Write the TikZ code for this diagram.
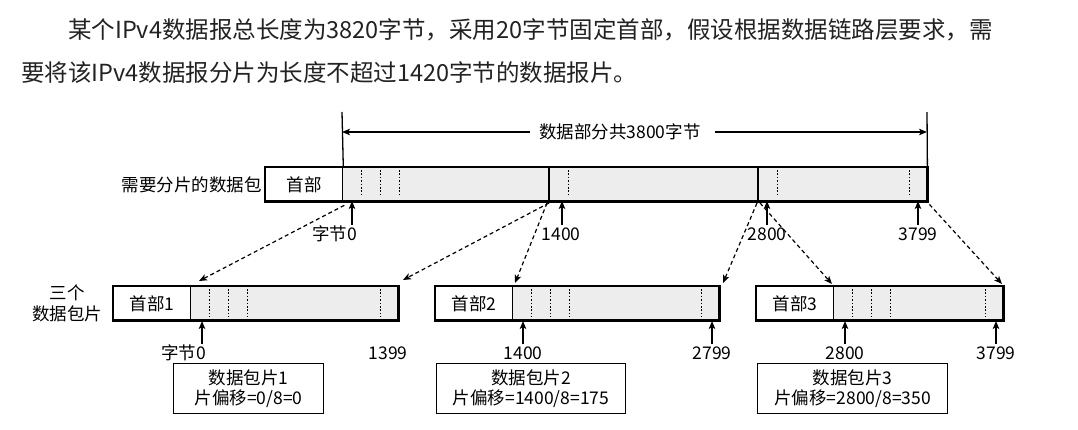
\documentclass[tikz,border=0pt]{standalone}
\usepackage{fontspec}
\setmainfont{Noto Sans CJK SC}
\usetikzlibrary{arrows.meta,calc}
\definecolor{datagray}{HTML}{EDEDED}
\definecolor{txt}{HTML}{222222}
\begin{document}
\begin{tikzpicture}[x=1pt,y=-1pt,
  lbl/.style={font=\fontsize{17.5}{20}\selectfont, inner sep=0pt, text=black},
  para/.style={font=\fontsize{23.5}{28}\selectfont, inner sep=0pt, anchor=west, text=txt},
  hdr/.style={draw=black, line width=1.3pt, fill=white, minimum height=34pt, inner sep=0pt, anchor=north west, font=\fontsize{17.5}{20}\selectfont},
  dat/.style={draw=none, fill=datagray, minimum height=34pt, inner sep=0pt, anchor=north west},
  frame/.style={draw=black, line width=2.4pt},
  dots/.style={line width=0.9pt, dash pattern=on 1.6pt off 1.8pt},
  tip/.style={-{Stealth[length=8pt,width=6.5pt,inset=2pt]}},
  upar/.style={line width=1.3pt, tip},
  dashar/.style={line width=1.2pt, dash pattern=on 4pt off 3pt, tip},
  dim/.style={line width=1.3pt},
  infobox/.style={draw=black, line width=1.3pt, minimum width=150pt, minimum height=50pt, inner sep=0pt, anchor=north west, align=center, font=\fontsize{17.5}{20.5}\selectfont}
]
\useasboundingbox (0,0) rectangle (1078,429);

% paragraph
\node[para] (p1) at (68,30) {某个IPv4数据报总长度为3820字节，采用20字节固定首部，假设根据数据链路层要求，需};
\node[para] (p2) at (21,73) {要将该IPv4数据报分片为长度不超过1420字节的数据报片。};

% ---------- original packet ----------
\node[dat, minimum width=585pt] (md) at (342,167) {};
\node[hdr, minimum width=77pt] (mh) at (265,167) {首部};
\foreach \x in {361,380,399,568,777,909}
  \draw[dots] (\x,170) -- (\x,197);
\draw[frame] (549,167) -- (549,200);
\draw[frame] (758,167) -- (758,200);
\draw[frame] (mh.north west) rectangle (md.south east);
\node[lbl, anchor=east] (mlabel) at (262,185) {需要分片的数据包};

% dimension arrow
\coordinate (dl) at (342,112);
\coordinate (dr) at (927,112);
\draw[dim] (dl) -- (mh.north east);
\draw[dim] (dr) -- (md.north east);
\node[lbl] (dimtxt) at (620,132) {数据部分共3800字节};
\draw[dim, tip] (dimtxt.west) ++(-9,0) -- (342,132);
\draw[dim, tip] (dimtxt.east) ++(14,0) -- (927,132);

% byte markers on original
\node[lbl, anchor=east] (b0) at (357,234) {字节0};
\node[lbl] (b1400) at (561,234) {1400};
\node[lbl] (b2800) at (767,234) {2800};
\node[lbl] (b3799) at (918,234) {3799};
\draw[upar] (352,225) -- (352,201);
\draw[upar] (562,225) -- (562,201);
\draw[upar] (767,225) -- (767,201);
\draw[upar] (918,225) -- (918,201);

% ---------- fragments ----------
\node[lbl, align=center, font=\fontsize{17.5}{21}\selectfont] (three) at (67,303) {三个\\数据包片};

% fragment 1
\node[dat, minimum width=208pt] (d1) at (190,286) {};
\node[hdr, minimum width=77pt] (h1) at (113,286) {首部1};
\foreach \x in {209,228,247,380}
  \draw[dots] (\x,289) -- (\x,317);
\draw[frame] (h1.north west) rectangle (d1.south east);

% fragment 2
\node[dat, minimum width=207pt] (d2) at (512,286) {};
\node[hdr, minimum width=77pt] (h2) at (435,286) {首部2};
\foreach \x in {531,550,569,701}
  \draw[dots] (\x,289) -- (\x,317);
\draw[frame] (h2.north west) rectangle (d2.south east);

% fragment 3
\node[dat, minimum width=170pt] (d3) at (833,286) {};
\node[hdr, minimum width=77pt] (h3) at (756,286) {首部3};
\foreach \x in {852,871,890,985}
  \draw[dots] (\x,289) -- (\x,317);
\draw[frame] (h3.north west) rectangle (d3.south east);

% byte markers on fragments
\node[lbl, anchor=east] (f0) at (206,353) {字节0};
\node[lbl] (f1399) at (388,353) {1399};
\node[lbl] (f1400) at (523,353) {1400};
\node[lbl] (f2799) at (712,353) {2799};
\node[lbl] (f2800) at (845,353) {2800};
\node[lbl] (f3799) at (996,353) {3799};
\draw[upar] (202,344) -- (202,321);
\draw[upar] (523,344) -- (523,321);
\draw[upar] (712,344) -- (712,321);
\draw[upar] (845,344) -- (845,321);
\draw[upar] (996,344) -- (996,321);

% info boxes
\node[infobox] (i1) at (173,363) {数据包片1\\片偏移=0/8=0};
\node[infobox, minimum width=189pt] (i2) at (436,363) {数据包片2\\片偏移=1400/8=175};
\node[infobox, minimum width=190pt] (i3) at (757,363) {数据包片3\\片偏移=2800/8=350};

% dashed mapping arrows
\coordinate (t1) at (199,281);
\coordinate (t2) at (403,280);
\coordinate (t3) at (515,283);
\coordinate (t4) at (723,283);
\coordinate (t5) at (832,284);
\coordinate (t6) at (1002,284);
\draw[dashar] ($(mh.south east)+(1,3)$) -- (t1);
\draw[dashar] (549,203) -- (t2);
\draw[dashar] (547,203) -- (t3);
\draw[dashar] (757,203) -- (t4);
\draw[dashar] (760,203) -- (t5);
\draw[dashar] ($(md.south east)+(2,3)$) -- (t6);
\end{tikzpicture}
\end{document}
